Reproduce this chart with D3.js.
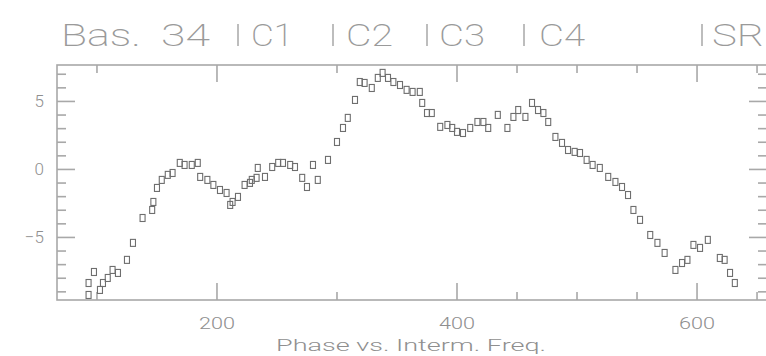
<!DOCTYPE html>
<html>
<head>
<meta charset="utf-8">
<script src="https://cdn.jsdelivr.net/npm/d3@7"></script>
<style>
  html, body { margin: 0; padding: 0; background: #fff; }
  svg { display: block; }
  text { font-family: Roboto, "DejaVu Sans", sans-serif; font-weight: 300; fill: #8f8f8f; }
</style>
</head>
<body>
<svg id="chart" width="766" height="356"></svg>
<script>
// Intermediate frequency of each channel
const freq = [93, 93, 97.5, 102.5, 105, 109, 113, 117.5, 125, 130, 138, 146, 147, 150, 154, 159, 163,
  169, 173, 179, 184, 186, 192, 197, 202.5, 208, 211, 213, 217.5, 223, 229, 227.5, 233, 234, 240,
  246, 251, 255, 261, 265, 271, 275, 280, 284, 292.5, 300, 305, 309, 315, 319, 323, 329, 334, 338,
  342.5, 347, 352.5, 358, 363, 369, 371, 375, 379, 386, 392, 396, 400, 405, 411, 417, 422, 426,
  434, 442, 447, 451, 457, 462.5, 467.5, 472, 476, 482, 487.5, 492.5, 498, 502.5, 508, 513, 519,
  526, 532, 537.5, 542.5, 547, 552.5, 561, 567, 573, 582, 587.5, 592, 597, 602.5, 609, 619, 623,
  627.5, 631.5];
// Measured phase per channel
const phase = [-9.23, -8.35, -7.54, -8.86, -8.35, -7.98, -7.39, -7.61, -6.65, -5.40, -3.57, -2.98,
  -2.39, -1.36, -0.77, -0.40, -0.26, 0.48, 0.33, 0.33, 0.48, -0.55, -0.77, -1.14, -1.51, -1.73,
  -2.61, -2.39, -2.02, -1.14, -0.77, -0.99, -0.62, 0.11, -0.55, 0.18, 0.48, 0.48, 0.33, 0.18,
  -0.62, -1.29, 0.33, -0.77, 0.70, 2.02, 3.05, 3.79, 5.11, 6.43, 6.36, 5.99, 6.73, 7.10, 6.73,
  6.43, 6.21, 5.85, 5.70, 5.70, 4.89, 4.15, 4.15, 3.13, 3.27, 3.05, 2.76, 2.68, 3.05, 3.49, 3.49,
  3.05, 4.01, 3.05, 3.86, 4.37, 3.86, 4.89, 4.37, 4.15, 3.49, 2.39, 1.95, 1.43, 1.29, 1.21, 0.70,
  0.33, 0.11, -0.55, -0.92, -1.29, -1.88, -2.98, -3.71, -4.82, -5.40, -6.14, -7.39, -6.88, -6.65,
  -5.55, -5.77, -5.18, -6.51, -6.65, -7.61, -8.35];

const xMajor = [200, 400, 600];
const xMinor = [100, 300, 450, 500, 550, 650];
const yMajor = [5, 0, -5];
const yMinor = [7, 6, 4, 3, 2, 1, -1, -2, -3, -4, -6, -7, -8, -9];

// header words and their horizontal extents
const titleWords = [
  {t: "Bas.", x0: 61, x1: 141},
  {t: "34", x0: 161, x1: 210},
  {t: "C1", x0: 251, x1: 293},
  {t: "C2", x0: 346, x1: 393},
  {t: "C3", x0: 439, x1: 485},
  {t: "C4", x0: 539, x1: 585},
  {t: "SR", x0: 712, x1: 764}
];
// separator bars between header words
const titleBars = [238, 333, 427, 524, 702];
const xTitle = "Phase  vs.  Interm. Freq.";

const svg = d3.select("#chart");
const L = 57, R = 767, T = 65, B = 300;

const x = d3.scaleLinear().domain([66.7, 658.3]).range([L, R]);
const y = d3.scaleLinear().domain([-9.6, 7.68]).range([B, T]);

const axisColor = "#a8a8a8";
const g = svg.append("g").attr("stroke", axisColor).attr("stroke-width", 1.6).attr("fill", "none");

// frame
g.append("rect").attr("x", L).attr("y", T).attr("width", R - L).attr("height", B - T);

// x ticks, bottom and top, pointing inward
function xTicks(vals, len) {
  vals.forEach(v => {
    const px = x(v);
    g.append("line").attr("x1", px).attr("x2", px).attr("y1", B).attr("y2", B - len);
    g.append("line").attr("x1", px).attr("x2", px).attr("y1", T).attr("y2", T + len);
  });
}
xTicks(xMajor, 17);
xTicks(xMinor, 8);

// y ticks, left and right, pointing inward
function yTicks(vals, len) {
  vals.forEach(v => {
    const py = y(v);
    g.append("line").attr("x1", L).attr("x2", L + len).attr("y1", py).attr("y2", py);
    g.append("line").attr("x1", R).attr("x2", R - len).attr("y1", py).attr("y2", py);
  });
}
yTicks(yMajor, 18);
yTicks(yMinor, 9);

// tick labels
svg.append("g").selectAll("text").data(xMajor).join("text")
  .attr("x", d => x(d)).attr("y", 329)
  .attr("text-anchor", "middle").attr("font-size", 17)
  .attr("textLength", 36).attr("lengthAdjust", "spacingAndGlyphs")
  .text(d => d);

svg.append("g").selectAll("text").data(yMajor).join("text")
  .attr("x", 44).attr("y", d => y(d) + 6)
  .attr("text-anchor", "end").attr("font-size", 17)
  .text(d => d < 0 ? "\u2212" + Math.abs(d) : d);

// axis title
svg.append("text").attr("x", 276).attr("y", 351).attr("font-size", 16)
  .attr("textLength", 270).attr("lengthAdjust", "spacingAndGlyphs")
  .text(xTitle);

// header
svg.append("g").selectAll("text").data(titleWords).join("text")
  .attr("x", d => d.x0).attr("y", 46).attr("font-size", 31)
  .style("font-weight", 200).style("fill", "#9a9a9a")
  .attr("textLength", d => d.x1 - d.x0).attr("lengthAdjust", "spacingAndGlyphs")
  .text(d => d.t);
svg.append("g").attr("stroke", "#9a9a9a").attr("stroke-width", 1.3)
  .selectAll("line").data(titleBars).join("line")
  .attr("x1", d => d).attr("x2", d => d).attr("y1", 24).attr("y2", 46);

// data points: small open glyph markers
const pts = freq.map((f, i) => ({f, p: phase[i]}));
svg.append("g").attr("fill", "none").attr("stroke", "#6e6e6e").attr("stroke-width", 1.1)
  .selectAll("rect").data(pts).join("rect")
  .attr("x", d => x(d.f) - 2.5).attr("y", d => y(d.p) - 3.5)
  .attr("width", 5).attr("height", 7);
</script>
</body>
</html>
